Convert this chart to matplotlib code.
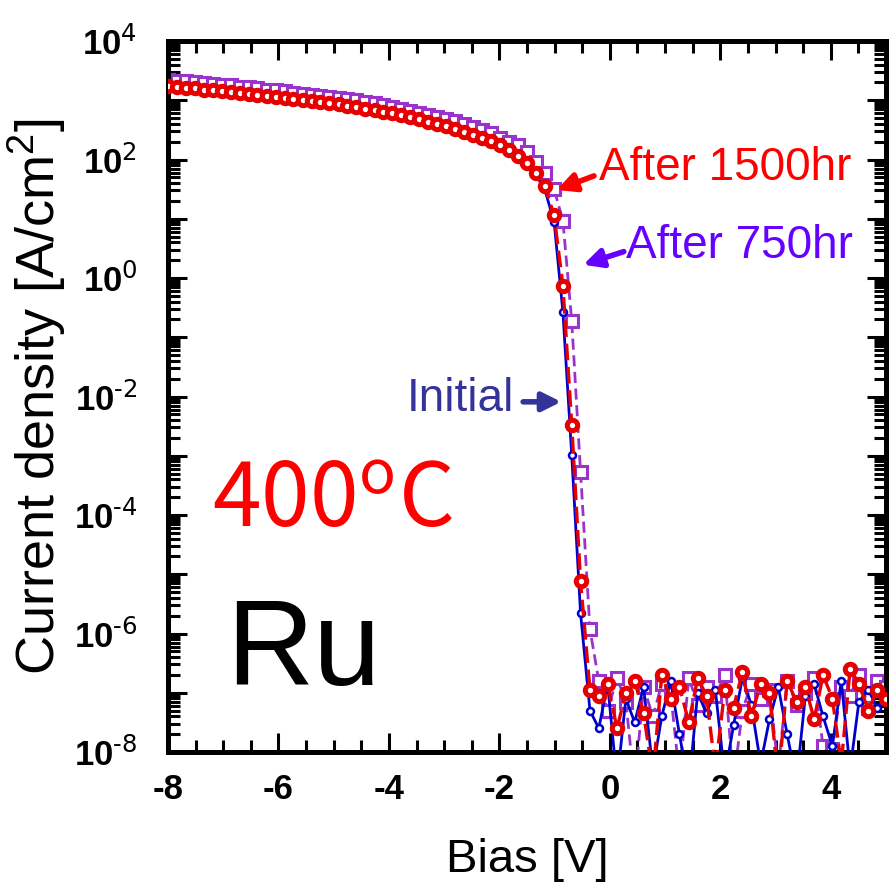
import numpy as np
import matplotlib
matplotlib.use('Agg')
import matplotlib.pyplot as plt
from matplotlib.ticker import LogLocator, MultipleLocator, NullFormatter

plt.rcParams['mathtext.default'] = 'regular'

# bias grid of the measurement [V]
bias = [-8.00, -7.84, -7.68, -7.51, -7.35, -7.19, -7.03, -6.86, -6.70, -6.54,
        -6.38, -6.21, -6.05, -5.89, -5.73, -5.56, -5.40, -5.24, -5.08, -4.91,
        -4.75, -4.59, -4.43, -4.26, -4.10, -3.94, -3.78, -3.61, -3.45, -3.29,
        -3.13, -2.96, -2.80, -2.64, -2.48, -2.31, -2.15, -1.99, -1.83, -1.66,
        -1.50, -1.34, -1.18, -1.01, -0.85, -0.69, -0.53, -0.36, -0.20, -0.04,
        0.13, 0.29, 0.45, 0.61, 0.78, 0.94, 1.10, 1.26, 1.43, 1.59,
        1.75, 1.91, 2.08, 2.24, 2.40, 2.56, 2.73, 2.89, 3.05, 3.21,
        3.38, 3.54, 3.70, 3.86, 4.03, 4.19, 4.35, 4.51, 4.68, 4.84, 5.00]

# log10 of current density [A/cm2]
initial = [3.21, 3.19, 3.18, 3.17, 3.15, 3.14, 3.12, 3.11, 3.09, 3.08,
           3.06, 3.04, 3.03, 3.01, 2.99, 2.97, 2.95, 2.94, 2.92, 2.90,
           2.88, 2.86, 2.83, 2.81, 2.78, 2.75, 2.72, 2.68, 2.65, 2.61,
           2.57, 2.53, 2.49, 2.44, 2.39, 2.34, 2.28, 2.21, 2.13, 2.03,
           1.91, 1.74, 1.50, 0.95, -0.57, -2.99, -5.66,
           -7.3, -7.6, -6.85, -8.5, -7.1, -7.5, -6.9, -8.3, -7.4, -6.8,
           -7.7, -8.6, -7.0, -7.35, -6.95, -8.4, -7.55, -6.75, -7.2, -8.2,
           -7.45, -6.9, -7.7, -8.5, -7.05, -6.85, -7.4, -7.9, -6.8, -8.3,
           -7.15, -6.95, -7.25, -7.1]

after_750 = [3.35, 3.33, 3.32, 3.31, 3.29, 3.28, 3.26, 3.25, 3.23, 3.22,
             3.20, 3.18, 3.17, 3.15, 3.13, 3.11, 3.09, 3.08, 3.06, 3.04,
             3.02, 3.00, 2.97, 2.95, 2.92, 2.89, 2.86, 2.82, 2.79, 2.75,
             2.71, 2.69, 2.65, 2.60, 2.55, 2.50, 2.44, 2.37, 2.29, 2.24,
             2.12, 1.96, 1.78, 1.50, 0.97, -0.73, -3.28, -5.93,
             -6.8, -7.3, -6.75, -7.15, -8.6, -6.9, -7.4, -6.85, -7.0, -8.4,
             -6.75, -7.2, -6.9, -7.05, -6.7, -8.5, -7.3, -6.85, -7.1, -6.95,
             -8.3, -6.8, -7.2, -7.0, -6.75, -7.9, -7.95, -6.9, -7.05, -6.7,
             -7.25, -6.8, -6.9]

after_1500 = [3.24, 3.22, 3.21, 3.20, 3.18, 3.17, 3.15, 3.14, 3.12, 3.11,
              3.09, 3.07, 3.06, 3.04, 3.02, 3.00, 2.98, 2.97, 2.95, 2.93,
              2.91, 2.89, 2.86, 2.84, 2.81, 2.78, 2.75, 2.71, 2.68, 2.64,
              2.60, 2.56, 2.52, 2.47, 2.42, 2.37, 2.31, 2.24, 2.16, 2.06,
              1.94, 1.78, 1.55, 1.06, -0.13, -2.48, -5.12,
              -6.95, -7.05, -6.85, -7.6, -7.0, -6.8, -7.35, -8.4, -6.7, -7.1,
              -6.9, -7.5, -6.75, -7.05, -8.3, -6.95, -7.25, -6.65, -7.4, -6.85,
              -7.0, -8.5, -6.8, -7.15, -6.9, -7.45, -6.7, -7.1, -8.2, -6.6,
              -6.85, -7.3, -6.95, -7.1]

x_ticks = [-8, -6, -4, -2, 0, 2, 4]
y_decades = list(range(-8, 5))

RED = '#e60000'
PURPLE = '#9933cc'
BLUE = '#0000cc'

fig = plt.figure(figsize=(8.9, 8.89), dpi=100)
ax = fig.add_axes([168/890, 1-752/889, (886-168)/890, (752-41)/889])
ax.set_yscale('log')

ax.plot(bias, 10**np.array(after_750), color=PURPLE, ls='--', dashes=(4, 2),
        lw=2.0, marker='s', ms=9, mfc='white', mec=PURPLE, mew=2.2, zorder=2)
ax.plot(bias, 10**np.array(initial), color=BLUE, ls='-', lw=2.0,
        marker='o', ms=5, mfc='white', mec=BLUE, mew=1.8, zorder=3)
ax.plot(bias, 10**np.array(after_1500), color=RED, ls='--', dashes=(5, 2),
        lw=2.4, marker='o', ms=7.5, mfc='white', mec=RED, mew=3.6, zorder=4)

ax.set_xlim(-8, 5)
ax.set_ylim(1e-8, 1e4)

tick_font = dict(family='Liberation Sans', fontweight='bold', fontsize=25)
ax.set_xticks(x_ticks, [str(t) for t in x_ticks], **tick_font)
ax.xaxis.set_minor_locator(MultipleLocator(0.5))
ylabels = ['10$^{\\text{%d}}$' % d if d % 2 == 0 else '' for d in y_decades]
ax.set_yticks([10.0**d for d in y_decades], ylabels, **tick_font)
ax.yaxis.set_minor_locator(LogLocator(base=10, subs=np.arange(2, 10), numticks=100))
ax.yaxis.set_minor_formatter(NullFormatter())

ax.tick_params(which='both', direction='in', top=True, right=True, width=2.2)
ax.tick_params(which='major', length=14)
ax.tick_params(which='minor', length=8.5)
ax.tick_params(axis='x', pad=15)
ax.tick_params(axis='y', pad=22)
for s in ax.spines.values():
    s.set_linewidth(3.6)

ax.set_ylabel('Current density [A/cm$^{2}$]', family='Liberation Sans', fontsize=39)
ax.yaxis.set_label_coords(-0.183, 0.5)
ax.set_xlabel('Bias [V]', family='Liberation Sans', fontsize=34)
ax.xaxis.set_label_coords(0.5, -0.152)
ax.xaxis.label.set_va('center')
ax.yaxis.label.set_va('center')

# labels with arrows
ax.text(-0.20, 10**1.857, 'After 1500hr', color='#ff0000', fontsize=33,
        family='Liberation Sans', ha='left', va='center')
ax.annotate('', xy=(-1.01, 10**1.47), xytext=(-0.24, 10**1.74),
            arrowprops=dict(arrowstyle='-|>', color='#ff0000', lw=4, mutation_scale=28))
ax.text(0.30, 10**0.548, 'After 750hr', color='#6600ff', fontsize=33,
        family='Liberation Sans', ha='left', va='center')
ax.annotate('', xy=(-0.53, 10**0.21), xytext=(0.30, 10**0.46),
            arrowprops=dict(arrowstyle='-|>', color='#6600ff', lw=4, mutation_scale=28))
ax.text(-3.67, 10**-2.04, 'Initial', color='#333399', fontsize=33,
        family='Liberation Sans', ha='left', va='center')
ax.annotate('', xy=(-0.83, 10**-2.09), xytext=(-1.62, 10**-2.09),
            arrowprops=dict(arrowstyle='-|>', color='#333399', lw=4, mutation_scale=28))

ax.text(-7.21, 10**-4.21, '400$^{o}$C', color='#ff0000', fontsize=63,
        family=['Noto Sans CJK JP', 'DejaVu Sans'], ha='left', va='baseline')
ax.text(-6.94, 10**-6.87, 'Ru', color='black', fontsize=87,
        family='Liberation Sans', ha='left', va='baseline')

fig.savefig('out.png', dpi=100)
